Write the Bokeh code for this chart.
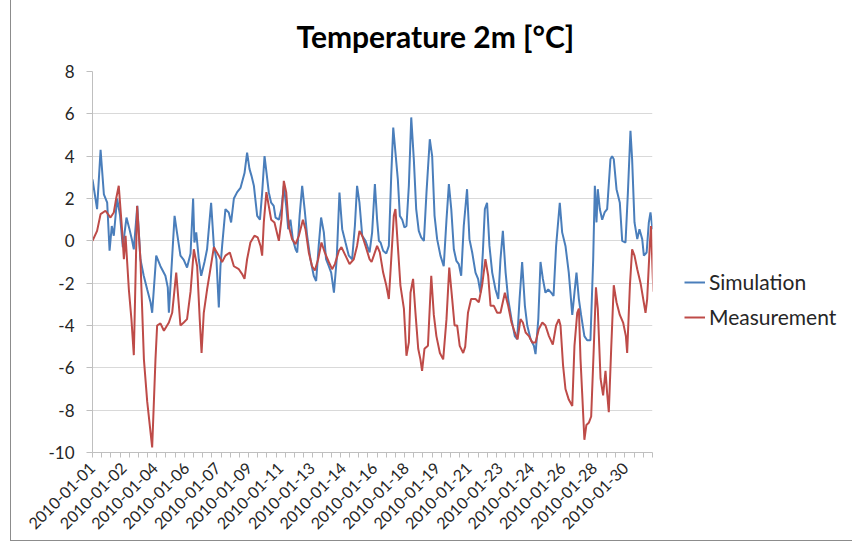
import math
import numpy as np
from bokeh.plotting import figure
from bokeh.models import Range1d, FixedTicker, Legend, LegendItem
from bokeh.embed import file_html
from bokeh.resources import INLINE

TITLE = "Temperature 2m [°C]"
SERIES = ["Simulation", "Measurement"]
COLORS = ["#4a7ebb", "#be4b48"]

# x tick labels (one every 41 hours), minor ticks every 12 hours
DATE_LABELS = ["2010-01-01", "2010-01-02", "2010-01-04", "2010-01-06", "2010-01-07",
               "2010-01-09", "2010-01-11", "2010-01-13", "2010-01-14", "2010-01-16",
               "2010-01-18", "2010-01-19", "2010-01-21", "2010-01-23", "2010-01-24",
               "2010-01-26", "2010-01-28", "2010-01-30"]
LABEL_STEP_H = 41
MINOR_STEP_H = 12
SPAN_H = 732

Y_TICKS = [-10, -8, -6, -4, -2, 0, 2, 4, 6, 8]

# Simulation: time (days since start) and temperature
sim_day = [0.0, 0.25, 0.44, 0.62, 0.8, 0.93, 1.05, 1.16, 1.34, 1.5, 1.65, 1.85, 2.0, 2.16, 2.25,
           2.44, 2.61, 2.79, 2.98, 3.16, 3.25, 3.47, 3.7, 3.97, 4.1, 4.16, 4.47, 4.6, 4.79, 4.97,
           5.15, 5.34, 5.48, 5.55, 5.65, 5.79, 5.92, 6.1, 6.24, 6.46, 6.61, 6.75, 6.88, 6.97, 7.06,
           7.24, 7.42, 7.55, 7.7, 7.88, 8.06, 8.28, 8.42, 8.55, 8.66, 8.79, 8.97, 9.12, 9.24, 9.37,
           9.48, 9.6, 9.73, 9.87, 9.97, 10.15, 10.29, 10.42, 10.55, 10.66, 10.78, 10.91, 11.06, 11.15,
           11.28, 11.42, 11.57, 11.69, 11.87, 12.05, 12.18, 12.32, 12.45, 12.6, 12.72, 12.87, 13.0,
           13.15, 13.3, 13.45, 13.6, 13.78, 13.96, 14.14, 14.29, 14.41, 14.54, 14.69, 14.87, 15.09,
           15.23, 15.38, 15.5, 15.6, 15.69, 15.83, 16.0, 16.14, 16.27, 16.38, 16.5, 16.63, 16.74,
           16.87, 16.99, 17.1, 17.23, 17.36, 17.5, 17.63, 17.77, 17.9, 18.05, 18.19, 18.37, 18.5,
           18.63, 18.77, 18.95, 19.13, 19.28, 19.41, 19.54, 19.68, 19.82, 19.95, 20.08, 20.22, 20.4,
           20.53, 20.68, 20.86, 21.0, 21.13, 21.26, 21.37, 21.49, 21.62, 21.77, 21.95, 22.1, 22.22,
           22.35, 22.5, 22.64, 22.82, 23.0, 23.13, 23.26, 23.4, 23.55, 23.68, 23.86, 24.04, 24.13,
           24.28, 24.4, 24.53, 24.67, 24.82, 24.98, 25.11, 25.25, 25.45, 25.58, 25.76, 25.94, 26.13,
           26.25, 26.36, 26.49, 26.61, 26.79, 26.94, 27.12, 27.27, 27.36, 27.45, 27.52, 27.63, 27.76,
           27.89, 28.03, 28.21, 28.3, 28.39, 28.54, 28.72, 28.85, 29.03, 29.16, 29.3, 29.39, 29.52,
           29.67, 29.79, 29.94, 30.03, 30.18, 30.3, 30.39, 30.5]
sim_temp = [2.9, 1.5, 4.3, 2.2, 1.8, -0.47, 0.7, 0.24, 2.0, 1.2, -0.3, 1.1, 0.6, 0.0, -0.4,
            1.65, -0.87, -1.65, -2.3, -2.9, -3.4, -0.7, -1.2, -1.65, -2.2, -3.4, 1.18, 0.4, -0.7, -0.9,
            -1.26, -0.6, 2.0, -0.08, 0.4, -0.87, -1.65, -1.0, -0.4, 1.8, -0.24, -0.87, -3.15, -1.2, -0.24,
            1.5, 1.34, 0.87, 2.0, 2.3, 2.5, 3.2, 4.17, 3.4, 3.07, 2.6, 1.18, 1.0, 2.28, 4.0,
            3.2, 2.3, 1.8, 1.65, 1.1, 1.0, 1.5, 2.6, 1.65, 0.55, 1.0, 0.08, -0.4, -0.55,
            1.18, 2.6, 1.34, 0.24, -0.87, -1.65, -1.9, -0.24, 1.1, 0.4, -0.87, -1.2, -1.5,
            -2.45, -0.87, 2.28, 0.55, -0.08, -0.7, -0.87, 0.7, 2.6, 1.8, 0.24, 0.0, -0.55,
            0.4, 2.68, 1.0, 0.0, -0.08, -0.47, -0.6, -0.24, 3.07, 5.35, 4.17, 2.9, 1.18,
            1.0, 0.63, 0.7, 2.6, 5.83, 3.86, 1.5, 0.47, 0.16, 0.0, 2.28, 4.8, 4.0,
            1.18, 0.08, -0.7, -1.2, 1.0, 2.68, 1.5, -0.4, -0.95, -1.1, -1.65, 0.7, 2.44,
            0.08, -0.55, -1.5, -1.8, -2.45, -0.55, 1.5, 1.8, -0.24, -1.5, -2.3, -2.75, -0.87,
            0.47, -1.5, -2.75, -3.7, -4.5, -4.65, -2.75, -1.0, -3.07, -4.0, -4.65, -4.96, -5.35,
            -3.7, -1.0, -1.8, -2.45, -2.3, -2.45, -2.6, -0.24, 1.8, 0.4, -0.24, -1.5, -3.5,
            -2.45, -1.5, -2.75, -3.5, -4.5, -4.7, -4.7, -0.87, 2.6, 0.87, 2.44, 1.5, 1.0,
            1.34, 1.5, 3.86, 4.0, 3.86, 2.44, 1.8, 0.0, -0.08, 2.28, 5.2, 3.86, 0.87,
            0.08, 0.55, 0.08, -0.7, -0.55, 0.87, 1.34, 0.55]

# Measurement: time (days since start) and temperature
meas_day = [0.0, 0.25, 0.44, 0.71, 0.98, 1.16, 1.29, 1.43, 1.62, 1.71, 1.8, 1.98, 2.12, 2.25, 2.43,
            2.61, 2.8, 2.98, 3.25, 3.43, 3.52, 3.7, 3.89, 4.16, 4.34, 4.56, 4.7, 4.79, 4.97, 5.15,
            5.34, 5.52, 5.7, 5.84, 5.94, 6.06, 6.24, 6.39, 6.61, 6.88, 7.06, 7.24, 7.48, 7.7, 7.97,
            8.15, 8.28, 8.42, 8.6, 8.82, 9.0, 9.15, 9.24, 9.33, 9.47, 9.6, 9.73, 9.91, 10.15, 10.29,
            10.42, 10.55, 10.69, 10.87, 11.06, 11.24, 11.46, 11.6, 11.78, 11.96, 12.11, 12.29, 12.47,
            12.65, 12.87, 13.05, 13.2, 13.42, 13.56, 13.78, 14.0, 14.23, 14.41, 14.54, 14.69, 14.87,
            15.09, 15.2, 15.32, 15.5, 15.65, 15.83, 16.0, 16.14, 16.27, 16.41, 16.5, 16.63, 16.77,
            16.96, 17.1, 17.23, 17.32, 17.46, 17.59, 17.74, 17.86, 17.95, 18.08, 18.27, 18.45, 18.59,
            18.73, 18.92, 19.1, 19.28, 19.43, 19.59, 19.72, 19.86, 20.0, 20.19, 20.3, 20.45, 20.62,
            20.86, 21.04, 21.22, 21.4, 21.55, 21.68, 21.86, 22.04, 22.22, 22.46, 22.64, 22.82, 23.0,
            23.15, 23.31, 23.44, 23.59, 23.77, 23.95, 24.13, 24.31, 24.5, 24.67, 24.86, 25.07, 25.25,
            25.4, 25.49, 25.63, 25.76, 25.94, 26.13, 26.25, 26.4, 26.49, 26.58, 26.67, 26.79, 26.9,
            27.03, 27.16, 27.3, 27.42, 27.52, 27.67, 27.81, 27.94, 28.03, 28.12, 28.25, 28.39, 28.54,
            28.72, 28.9, 29.05, 29.12, 29.27, 29.39, 29.52, 29.67, 29.85, 30.12, 30.21, 30.35, 30.42,
            30.52, 30.55]
meas_temp = [0.0, 0.47, 1.26, 1.42, 1.1, 1.34, 2.0, 2.6, 0.4, -0.87, 0.24, -2.3, -3.7, -5.4, 1.65,
             -0.87, -5.6, -7.6, -9.76, -5.6, -4.0, -3.9, -4.25, -3.86, -3.4, -1.5, -3.0, -4.0, -3.86, -3.7,
             -2.4, -0.4, -1.2, -3.7, -5.3, -3.4, -2.3, -1.5, -0.3, -0.7, -1.0, -0.7, -0.55, -1.2, -1.34,
             -1.57, -1.8, -0.87, -0.08, 0.24, 0.16, -0.24, -0.7, 0.87, 2.3, 1.65, 1.0, 0.87, 0.0, 1.0,
             2.83, 2.3, 0.7, 0.08, -0.16, 0.24, 1.0, 0.55, -0.55, -1.2, -1.4, -0.87, -0.08,
             -0.55, -1.0, -1.34, -1.1, -0.47, -0.3, -0.7, -1.1, -0.87, -0.24, 0.47, 0.24, -0.24,
             -0.87, -1.0, -0.7, -0.24, -0.55, -1.5, -2.1, -2.75, -0.87, 1.18, 1.5, -0.24, -2.1,
             -3.2, -5.43, -4.8, -2.45, -1.8, -3.4, -5.1, -5.6, -6.14, -5.1, -4.96, -1.65, -3.5,
             -4.5, -5.3, -5.6, -3.7, -1.26, -2.75, -4.0, -4.0, -4.96, -5.3, -5.0, -3.4, -2.75,
             -2.75, -2.9, -2.1, -0.87, -1.65, -3.07, -3.07, -3.4, -3.4, -2.45, -3.07, -3.86, -4.33,
             -4.65, -3.7, -3.86, -4.33, -4.5, -4.8, -4.8, -4.17, -3.86, -4.0, -4.5, -4.9, -4.0,
             -3.7, -4.0, -5.9, -7.0, -7.5, -7.8, -4.96, -3.4, -3.2, -5.6, -7.2, -9.4, -8.7,
             -8.6, -8.3, -5.1, -2.2, -3.2, -6.5, -7.3, -6.14, -7.2, -8.1, -5.1, -2.1, -2.9,
             -3.5, -3.86, -4.5, -5.3, -2.1, -0.4, -0.7, -1.34, -2.0, -3.4, -2.75, -0.24, 0.7,
             -1.8, -2.4]

FONT = "Lato"

p = figure(frame_width=560, frame_height=381, output_backend="svg", toolbar_location=None,
           x_range=Range1d(0, SPAN_H), y_range=Range1d(-10, 8),
           min_border_left=81, min_border_right=188, min_border_top=79, min_border_bottom=88,
           background_fill_color="white", border_fill_color="white", outline_line_color=None)

p.title.text = TITLE
p.title.text_font = FONT
p.title.text_font_style = "bold"
p.title.text_font_size = "30px"
p.title.text_color = "black"
p.title.align = "left"
p.title.offset = 204
p.title.standoff = 36

r_sim = p.line(np.array(sim_day) * 24, sim_temp, line_color=COLORS[0], line_width=2)
r_meas = p.line(np.array(meas_day) * 24, meas_temp, line_color=COLORS[1], line_width=2)

# x axis
label_pos = [LABEL_STEP_H * k for k in range(len(DATE_LABELS))]
minor_pos = list(range(0, SPAN_H + 1, MINOR_STEP_H))
p.xaxis.ticker = FixedTicker(ticks=label_pos, minor_ticks=minor_pos)
p.xaxis.major_label_overrides = {pos: lab for pos, lab in zip(label_pos, DATE_LABELS)}
p.xaxis.major_label_orientation = math.pi / 4
p.xaxis.major_tick_line_color = None
p.xaxis.major_tick_out = 0
p.xaxis.major_tick_in = 0
p.xaxis.minor_tick_out = 5
p.xaxis.minor_tick_in = 0
p.xaxis.minor_tick_line_color = "#bfbfbf"
p.xaxis.axis_line_color = "#bfbfbf"
p.xaxis.major_label_standoff = 8
p.xaxis.major_label_text_font = FONT
p.xaxis.major_label_text_font_size = "16px"
p.xaxis.major_label_text_color = "#262626"

# y axis
p.yaxis.ticker = FixedTicker(ticks=Y_TICKS)
p.yaxis.major_label_overrides = {v: str(v) for v in Y_TICKS}
p.yaxis.major_tick_out = 6
p.yaxis.major_tick_in = 0
p.yaxis.minor_tick_line_color = None
p.yaxis.major_tick_line_color = "#bfbfbf"
p.yaxis.axis_line_color = "#bfbfbf"
p.yaxis.major_label_standoff = 12
p.yaxis.major_label_text_font = FONT
p.yaxis.major_label_text_font_size = "17px"
p.yaxis.major_label_text_color = "#262626"

p.xgrid.grid_line_color = None
p.ygrid.ticker = FixedTicker(ticks=Y_TICKS)
p.ygrid.grid_line_color = "#d9d9d9"
p.ygrid.grid_line_width = 1

legend = Legend(items=[LegendItem(label=SERIES[0], renderers=[r_sim]),
                       LegendItem(label=SERIES[1], renderers=[r_meas])],
                location=(32, 123), orientation="vertical",
                border_line_color=None, background_fill_alpha=0,
                label_text_font=FONT, label_text_font_size="21px", label_text_color="#262626",
                glyph_width=21, glyph_height=20, label_standoff=4, spacing=10, padding=0, margin=0)
p.add_layout(legend, "right")

p.styles = {"border": "1px solid #8c8c8c", "margin-left": "10px", "margin-top": "-9px"}

open("out.html", "w").write(file_html(p, INLINE))
